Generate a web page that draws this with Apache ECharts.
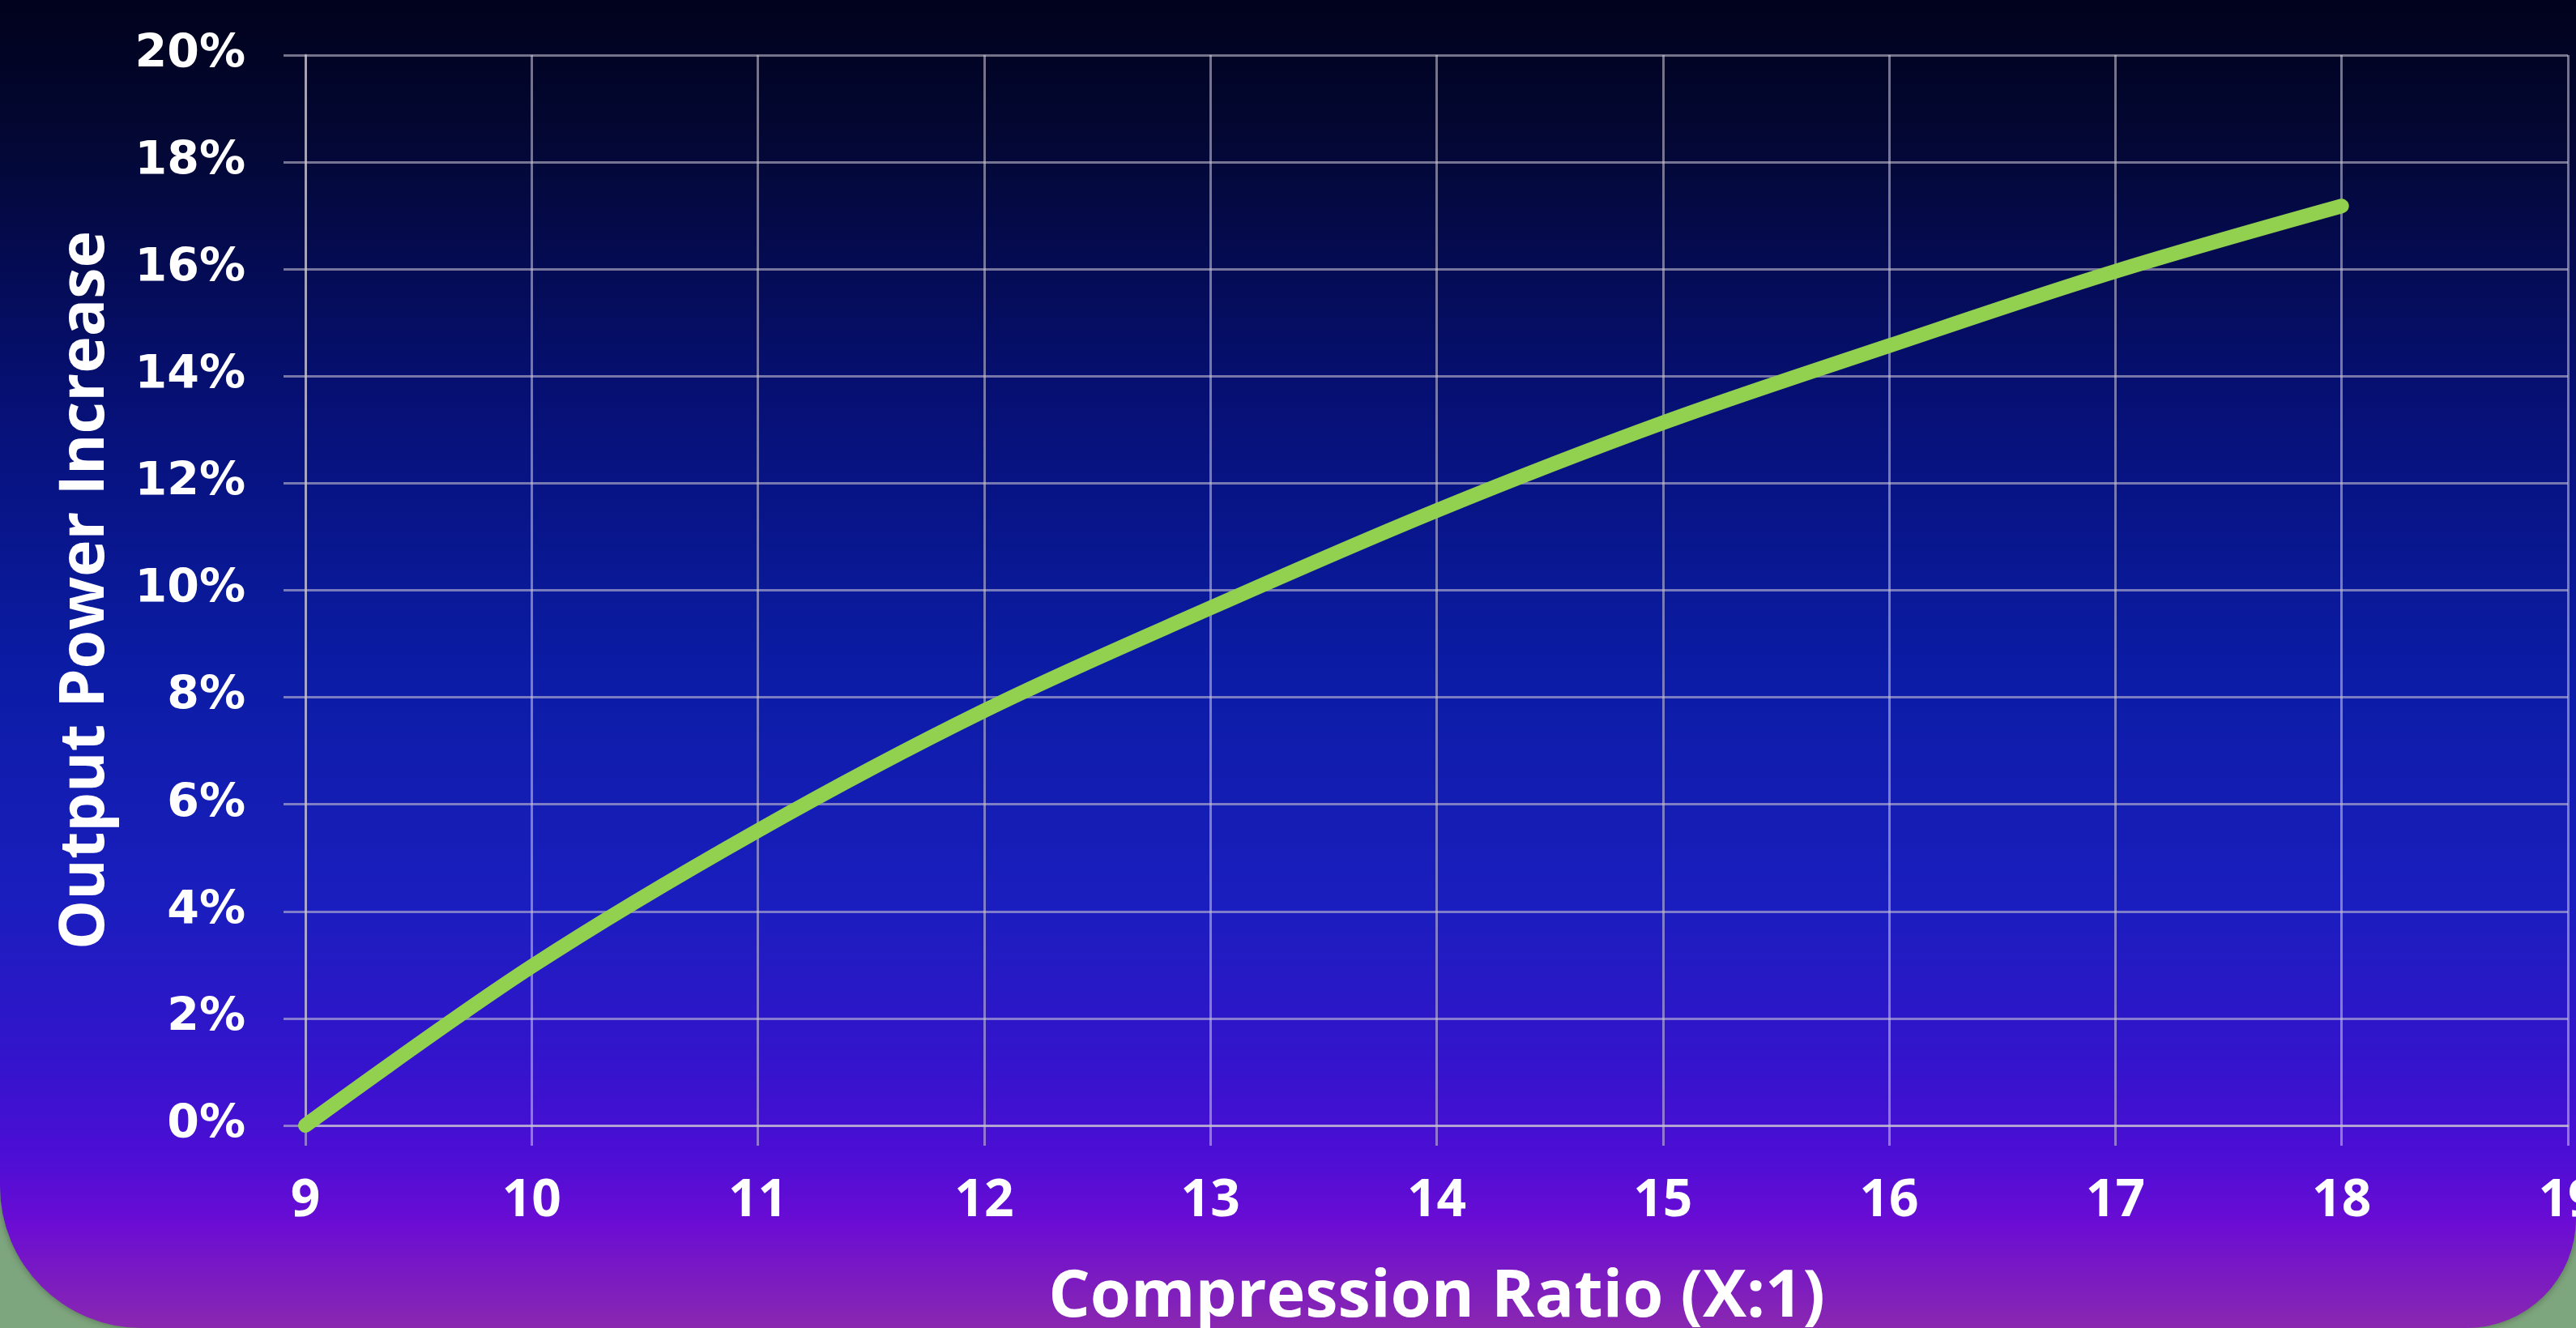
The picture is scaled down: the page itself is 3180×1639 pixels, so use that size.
<!DOCTYPE html>
<html>
<head>
<meta charset="utf-8">
<script src="https://cdn.jsdelivr.net/npm/echarts@6/dist/echarts.min.js"></script>
<style>
  html, body { margin: 0; padding: 0; background: #7ea67e; overflow: hidden; }
  #chart { width: 3180px; height: 1639px; }
</style>
</head>
<body>
<div id="chart"></div>
<script>
// Compression ratio (X:1)
const compressionRatios = [9, 10, 11, 12, 13, 14, 15, 16, 17, 18];
// Output power increase (%)
const powerIncrease = [0, 2.97, 5.51, 7.75, 9.67, 11.49, 13.13, 14.57, 15.96, 17.18];
// Axis settings
const xAxisRange = [9, 19];
const yAxisRange = [0, 20];
const xAxisTitle = 'Compression Ratio (X:1)';
const yAxisTitle = 'Output Power Increase';

const chart = echarts.init(document.getElementById('chart'), null, { renderer: 'canvas' });

const gridColor = 'rgba(200, 195, 210, 0.58)';

const option = {
  backgroundColor: 'transparent',
  animation: false,
  graphic: {
    elements: [{
      type: 'rect',
      z: -100,
      silent: true,
      shape: { x: 0, y: 0, width: 3180, height: 1639, r: [0, 0, 135, 175] },
      style: {
        fill: new echarts.graphic.LinearGradient(0, 0, 0, 1, [
          { offset: 0.00, color: '#01021c' },
          { offset: 0.10, color: '#030732' },
          { offset: 0.30, color: '#061074' },
          { offset: 0.50, color: '#0b1ca4' },
          { offset: 0.68, color: '#1a1ebe' },
          { offset: 0.80, color: '#3414cc' },
          { offset: 0.87, color: '#4c0ed4' },
          { offset: 0.92, color: '#6a0cd4' },
          { offset: 1.00, color: '#8a28b0' }
        ]),
        shadowColor: 'rgba(0,0,0,0.35)',
        shadowBlur: 10
      }
    }]
  },
  grid: { left: 377, right: 10, top: 68, bottom: 250, containLabel: false, outerBoundsMode: 'none' },
  xAxis: {
    type: 'value',
    min: xAxisRange[0],
    max: xAxisRange[1],
    interval: 1,
    name: xAxisTitle,
    nameLocation: 'middle',
    nameGap: 172,
    nameTextStyle: { color: '#ffffff', fontFamily: 'Open Sans', fontWeight: 'bold', fontSize: 81 },
    axisLine: { show: true, lineStyle: { color: gridColor, width: 3 } },
    axisTick: { show: true, inside: false, length: 25, lineStyle: { color: gridColor, width: 3 } },
    axisLabel: {
      color: '#ffffff', fontFamily: 'Open Sans', fontWeight: 'bold', fontSize: 64, margin: 62,
      showMaxLabel: true, showMinLabel: true, hideOverlap: false
    },
    splitLine: { show: true, lineStyle: { color: gridColor, width: 3 } }
  },
  yAxis: {
    type: 'value',
    min: yAxisRange[0],
    max: yAxisRange[1],
    interval: 2,
    name: yAxisTitle,
    nameLocation: 'middle',
    nameGap: 232,
    nameRotate: 90,
    nameTextStyle: { color: '#ffffff', fontFamily: 'Open Sans', fontWeight: 'bold', fontSize: 77 },
    axisLine: { show: true, lineStyle: { color: gridColor, width: 3 } },
    axisTick: { show: true, inside: false, length: 27, lineStyle: { color: gridColor, width: 3 } },
    axisLabel: {
      color: '#ffffff', fontFamily: 'DejaVu Sans', fontWeight: 'bold', fontSize: 57, margin: 74,
      formatter: '{value}%'
    },
    splitLine: { show: true, lineStyle: { color: gridColor, width: 3 } }
  },
  series: [{
    type: 'line',
    data: compressionRatios.map((x, i) => [x, powerIncrease[i]]),
    smooth: 0.35,
    showSymbol: false,
    symbol: 'none',
    clip: false,
    lineStyle: { color: '#92d050', width: 18, cap: 'round', join: 'round' },
    z: 5
  }]
};

chart.setOption(option);
</script>
</body>
</html>
